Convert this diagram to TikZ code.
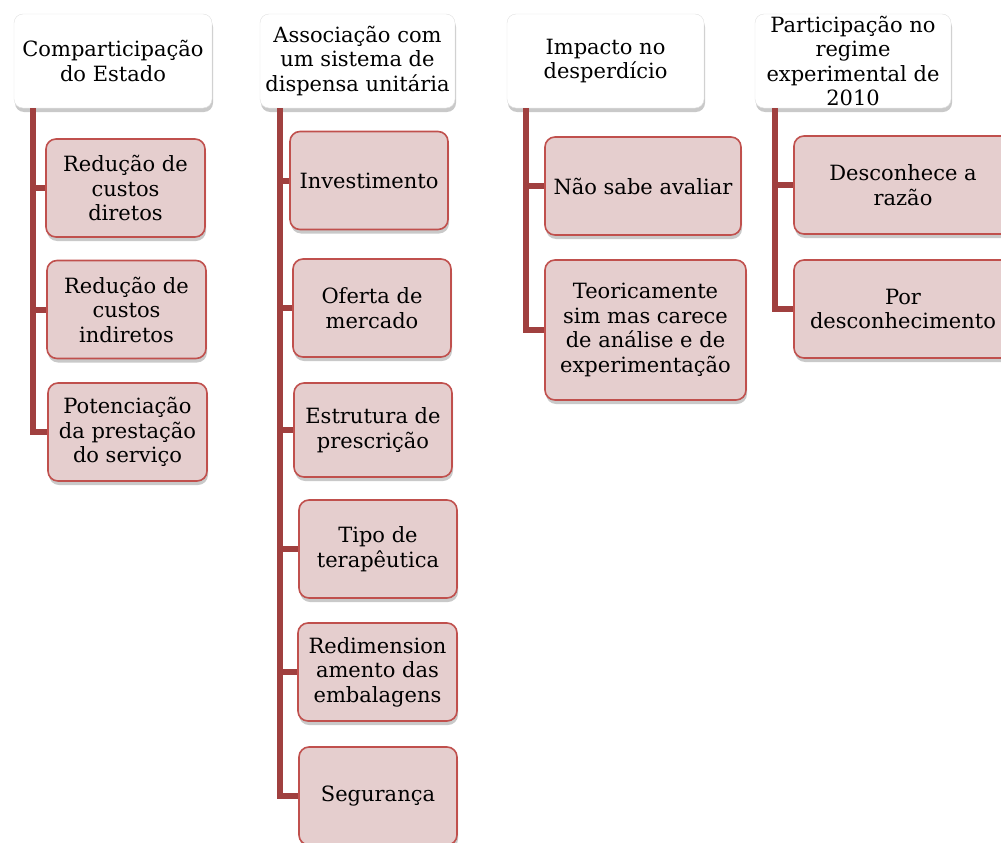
\documentclass[tikz,border=0pt]{standalone}
\usepackage{fontspec}
\setmainfont{DejaVu Serif}
\usetikzlibrary{shadows}
\definecolor{trunkred}{RGB}{160,64,63}
\definecolor{boxred}{RGB}{192,80,77}
\definecolor{boxfill}{RGB}{229,206,206}

\begin{document}
\begin{tikzpicture}[x=1pt, y=-1pt, font=\fontsize{21}{24.5}\selectfont,
    head/.style={draw=black!12, fill=white, rounded corners=9pt, align=center,
        minimum width=#1, minimum height=94pt, inner xsep=0pt, inner ysep=0pt,
        drop shadow={shadow xshift=1pt, shadow yshift=-4pt, opacity=0.3, fill=black!70}},
    leaf/.style={draw=boxred, line width=1.6pt, fill=boxfill, rounded corners=10pt, align=center,
        minimum width=#1, minimum height=98pt, inner xsep=0pt, inner ysep=0pt,
        drop shadow={shadow xshift=1pt, shadow yshift=-4pt, opacity=0.3, fill=black!70}},
    branch/.style={draw=trunkred, line width=6pt, line join=miter}]
        \useasboundingbox (0,0) rectangle (1001,843);

        \node[head=198pt] (comp) at (113,61) {Comparticipação\\do Estado};
        \node[head=195pt] (assoc) at (357.5,61) {Associação com\\um sistema de\\dispensa unitária};
        \node[head=197pt] (impacto) at (605.5,61) {Impacto no\\desperdício};
        \node[head=196pt] (regime) at (853,61) {Participação no\\regime\\experimental de\\2010};

        \coordinate (t1) at (33,108);
        \coordinate (t2) at (280,108);
        \coordinate (t3) at (526,108);
        \coordinate (t4) at (775,108);

        \draw[branch] (t1) |- (125.5,188);
        \draw[branch] (t1) |- (126.5,309.5);
        \draw[branch] (t1) |- (127.5,432);
        \draw[branch] (t2) |- (369,180.5);
        \draw[branch] (t2) |- (372,308);
        \draw[branch] (t2) |- (373,430);
        \draw[branch] (t2) |- (378,549);
        \draw[branch] (t2) |- (377.5,672);
        \draw[branch] (t2) |- (378,796);
        \draw[branch] (t3) |- (643,186);
        \draw[branch] (t3) |- (645.5,330);
        \draw[branch] (t4) |- (903,185);
        \draw[branch] (t4) |- (903,309);

        \node[leaf=159pt] (diretos) at (125.5,188) {Redução de\\custos\\diretos};
        \node[leaf=159pt] (indiretos) at (126.5,309.5) {Redução de\\custos\\indiretos};
        \node[leaf=159pt] (servico) at (127.5,432) {Potenciação\\da prestação\\do serviço};

        \node[leaf=158pt] (invest) at (369,180.5) {Investimento};
        \node[leaf=158pt] (oferta) at (372,308) {Oferta de\\mercado};
        \node[leaf=158pt, minimum height=94pt] (estrutura) at (373,430) {Estrutura de\\prescrição};
        \node[leaf=158pt] (tipo) at (378,549) {Tipo de\\terapêutica};
        \node[leaf=159pt] (redim) at (377.5,672) {Redimension\\amento das\\embalagens};
        \node[leaf=158pt] (seguranca) at (378,796) {Segurança};

        \node[leaf=196pt] (naosabe) at (643,186) {Não sabe avaliar};
        \node[leaf=201pt, minimum height=140pt] (teoria) at (645.5,330) {Teoricamente\\sim mas carece\\de análise e de\\experimentação};

        \node[leaf=218pt] (desconhece) at (903,185) {Desconhece a\\razão};
        \node[leaf=218pt] (pordesc) at (903,309) {Por\\desconhecimento};
\end{tikzpicture}
\end{document}
